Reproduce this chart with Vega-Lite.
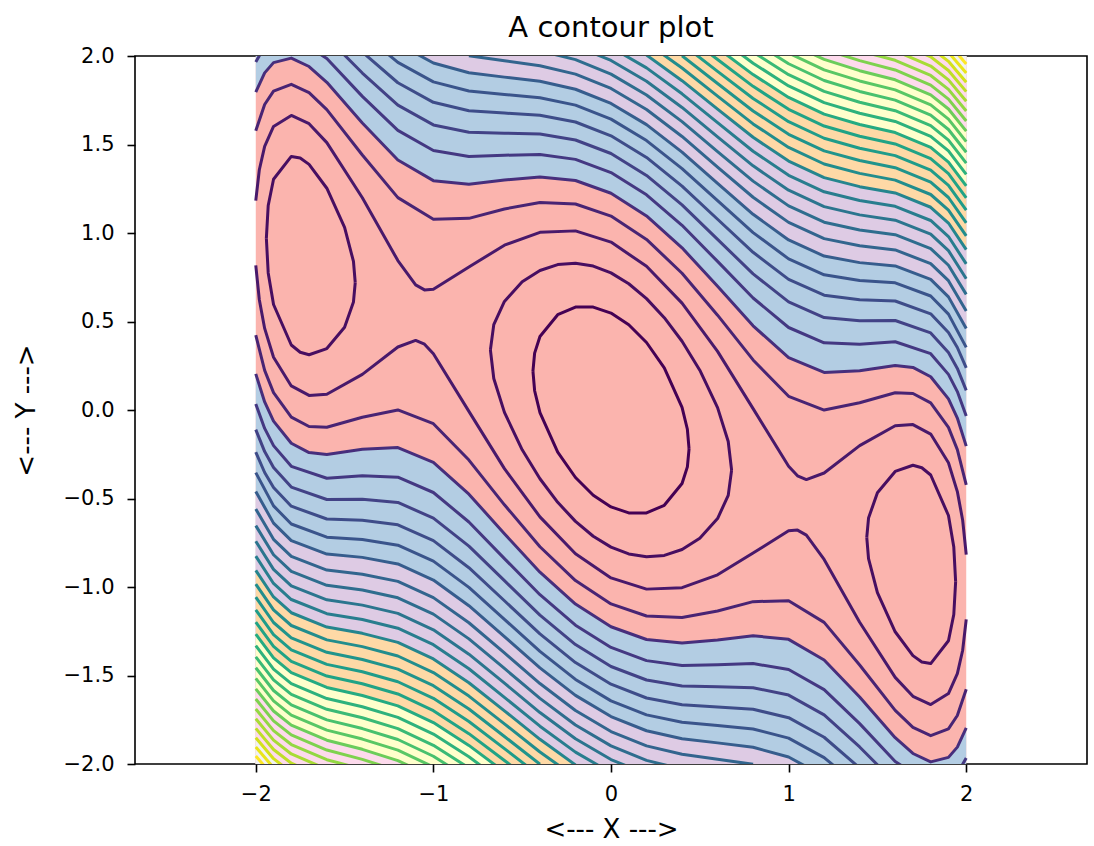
{
"$schema": "https://vega.github.io/schema/vega-lite/v6.json",
"width": 952, "height": 708,
"autosize": {"type": "none"},
"padding": {"left": 135, "top": 56, "right": 7, "bottom": 82},
"title": {"text": "A contour plot", "fontSize": 29, "fontWeight": "normal", "color": "#000", "frame": "group", "offset": 2},
"config": {
 "font": "DejaVu Sans",
 "view": {"stroke": "#000", "strokeWidth": 1.6},
 "axis": {"domain": false, "grid": false, "tickColor": "#000", "tickWidth": 1.6, "tickSize": 8, "labelFontSize": 21, "labelColor": "#000", "titleFontSize": 26, "titleFontWeight": "normal", "titleColor": "#000"},
 "axisX": {"labelPadding": 11, "titlePadding": 12},
 "axisY": {"labelPadding": 13, "titlePadding": 24}
},
"datasets": {"u": [
{"k":1,"x":-0.4395,"y":0.2198},{"k":1,"x":-0.43,"y":0.3212},{"k":1,"x":-0.4,"y":0.4149},{"k":1,"x":-0.3,"y":0.5384},{"k":1,"x":-0.2,"y":0.5813},{"k":1,"x":-0.1,"y":0.5816},{"k":1,"x":0,"y":0.5477},{"k":1,"x":0.1,"y":0.4816},{"k":1,"x":0.2,"y":0.3813},{"k":1,"x":0.3,"y":0.2384},{"k":1,"x":0.4,"y":0.0149},{"k":1,"x":0.43,"y":-0.1088},{"k":1,"x":0.4395,"y":-0.2198},
{"k":2,"g":"c","x":-0.679,"y":0.3395},{"k":2,"g":"c","x":-0.66,"y":0.4822},{"k":2,"g":"c","x":-0.6,"y":0.6135},{"k":2,"g":"c","x":-0.5,"y":0.7249},{"k":2,"g":"c","x":-0.4,"y":0.7884},{"k":2,"g":"c","x":-0.3,"y":0.8215},{"k":2,"g":"c","x":-0.2,"y":0.8292},{"k":2,"g":"c","x":-0.1,"y":0.8133},{"k":2,"g":"c","x":0,"y":0.7746},{"k":2,"g":"c","x":0.1,"y":0.7133},{"k":2,"g":"c","x":0.2,"y":0.6292},{"k":2,"g":"c","x":0.3,"y":0.5215},{"k":2,"g":"c","x":0.4,"y":0.3884},{"k":2,"g":"c","x":0.5,"y":0.2249},{"k":2,"g":"c","x":0.6,"y":0.0135},{"k":2,"g":"c","x":0.66,"y":-0.1778},{"k":2,"g":"c","x":0.679,"y":-0.3395},
{"k":2,"g":"l","x":-1.9404,"y":0.9702},{"k":2,"g":"l","x":-1.93,"y":1.1555},{"k":2,"g":"l","x":-1.9,"y":1.3039},{"k":2,"g":"l","x":-1.8,"y":1.4327},{"k":2,"g":"l","x":-1.75,"y":1.4239},{"k":2,"g":"l","x":-1.7,"y":1.3878},{"k":2,"g":"l","x":-1.6,"y":1.2529},{"k":2,"g":"l","x":-1.5,"y":1.0323},{"k":2,"g":"l","x":-1.45,"y":0.8395},{"k":2,"g":"l","x":-1.44,"y":0.72},
{"k":2,"g":"r","x":1.44,"y":-0.72},{"k":2,"g":"r","x":1.45,"y":-0.6105},{"k":2,"g":"r","x":1.5,"y":-0.4677},{"k":2,"g":"r","x":1.6,"y":-0.3471},{"k":2,"g":"r","x":1.7,"y":-0.3122},{"k":2,"g":"r","x":1.75,"y":-0.3261},{"k":2,"g":"r","x":1.8,"y":-0.3673},{"k":2,"g":"r","x":1.9,"y":-0.5961},{"k":2,"g":"r","x":1.93,"y":-0.7745},{"k":2,"g":"r","x":1.9404,"y":-0.9702},
{"k":3,"x":-2,"y":1.1826},{"k":3,"x":-1.98,"y":1.3572},{"k":3,"x":-1.95,"y":1.489},{"k":3,"x":-1.9,"y":1.6021},{"k":3,"x":-1.8,"y":1.6641},{"k":3,"x":-1.7,"y":1.6176},{"k":3,"x":-1.6,"y":1.5107},{"k":3,"x":-1.4,"y":1.1988},{"k":3,"x":-1.2,"y":0.8442},{"k":3,"x":-1.1,"y":0.7067},{"k":3,"x":-1.05,"y":0.6785},{"k":3,"x":-1,"y":0.6826},{"k":3,"x":-0.8,"y":0.8079},{"k":3,"x":-0.6,"y":0.9311},{"k":3,"x":-0.4,"y":1.0039},{"k":3,"x":-0.2,"y":1.012},{"k":3,"x":0,"y":0.9487},{"k":3,"x":0.2,"y":0.812},{"k":3,"x":0.4,"y":0.6039},{"k":3,"x":0.6,"y":0.3311},{"k":3,"x":0.8,"y":0.0079},{"k":3,"x":1,"y":-0.3174},{"k":3,"x":1.05,"y":-0.3715},{"k":3,"x":1.1,"y":-0.3933},{"k":3,"x":1.2,"y":-0.3558},{"k":3,"x":1.4,"y":-0.2012},{"k":3,"x":1.6,"y":-0.0893},{"k":3,"x":1.7,"y":-0.0824},{"k":3,"x":1.8,"y":-0.1359},{"k":3,"x":1.9,"y":-0.2979},{"k":3,"x":1.95,"y":-0.461},{"k":3,"x":1.98,"y":-0.6228},{"k":3,"x":2,"y":-0.8174},
{"k":4,"x":-2,"y":1.5774},{"k":4,"x":-1.95,"y":1.7261},{"k":4,"x":-1.9,"y":1.8016},{"k":4,"x":-1.8,"y":1.8401},{"k":4,"x":-1.7,"y":1.793},{"k":4,"x":-1.6,"y":1.6973},{"k":4,"x":-1.4,"y":1.4408},{"k":4,"x":-1.2,"y":1.1997},{"k":4,"x":-1,"y":1.0774},{"k":4,"x":-0.8,"y":1.0829},{"k":4,"x":-0.6,"y":1.1357},{"k":4,"x":-0.4,"y":1.1727},{"k":4,"x":-0.2,"y":1.1638},{"k":4,"x":0,"y":1.0954},{"k":4,"x":0.2,"y":0.9638},{"k":4,"x":0.4,"y":0.7727},{"k":4,"x":0.6,"y":0.5357},{"k":4,"x":0.8,"y":0.2829},{"k":4,"x":1,"y":0.0774},{"k":4,"x":1.2,"y":-0.0003},{"k":4,"x":1.4,"y":0.0408},{"k":4,"x":1.6,"y":0.0973},{"k":4,"x":1.7,"y":0.093},{"k":4,"x":1.8,"y":0.0401},{"k":4,"x":1.9,"y":-0.0984},{"k":4,"x":1.95,"y":-0.2239},{"k":4,"x":2,"y":-0.4226},
{"k":5,"x":-2,"y":1.7958},{"k":5,"x":-1.95,"y":1.9046},{"k":5,"x":-1.9,"y":1.9625},{"k":5,"x":-1.8,"y":1.988},{"k":5,"x":-1.7,"y":1.9406},{"k":5,"x":-1.6,"y":1.8512},{"k":5,"x":-1.4,"y":1.6213},{"k":5,"x":-1.2,"y":1.4122},{"k":5,"x":-1,"y":1.2958},{"k":5,"x":-0.8,"y":1.2754},{"k":5,"x":-0.6,"y":1.2991},{"k":5,"x":-0.4,"y":1.3163},{"k":5,"x":-0.2,"y":1.2965},{"k":5,"x":0,"y":1.2247},{"k":5,"x":0.2,"y":1.0965},{"k":5,"x":0.4,"y":0.9163},{"k":5,"x":0.6,"y":0.6991},{"k":5,"x":0.8,"y":0.4754},{"k":5,"x":1,"y":0.2958},{"k":5,"x":1.2,"y":0.2122},{"k":5,"x":1.4,"y":0.2213},{"k":5,"x":1.6,"y":0.2512},{"k":5,"x":1.7,"y":0.2406},{"k":5,"x":1.8,"y":0.188},{"k":5,"x":1.9,"y":0.0625},{"k":5,"x":1.95,"y":-0.0454},{"k":5,"x":2,"y":-0.2042},
{"k":6,"x":-2,"y":1.9661},{"k":6,"x":-1.95,"y":2.054},{"k":6,"x":-1.9,"y":2.1012},{"k":6,"x":-1.8,"y":2.1181},{"k":6,"x":-1.6,"y":1.9854},{"k":6,"x":-1.4,"y":1.7718},{"k":6,"x":-1.2,"y":1.5796},{"k":6,"x":-1,"y":1.4661},{"k":6,"x":-0.8,"y":1.4327},{"k":6,"x":-0.6,"y":1.4394},{"k":6,"x":-0.4,"y":1.4435},{"k":6,"x":-0.2,"y":1.4159},{"k":6,"x":0,"y":1.3416},{"k":6,"x":0.2,"y":1.2159},{"k":6,"x":0.4,"y":1.0435},{"k":6,"x":0.6,"y":0.8394},{"k":6,"x":0.8,"y":0.6327},{"k":6,"x":1,"y":0.4661},{"k":6,"x":1.2,"y":0.3796},{"k":6,"x":1.4,"y":0.3718},{"k":6,"x":1.6,"y":0.3854},{"k":6,"x":1.8,"y":0.3181},{"k":6,"x":1.9,"y":0.2012},{"k":6,"x":1.95,"y":0.104},{"k":6,"x":2,"y":-0.0339},
{"k":7,"x":-1.6,"y":2.1058},{"k":7,"x":-1.4,"y":1.9036},{"k":7,"x":-1.2,"y":1.7223},{"k":7,"x":-1,"y":1.6106},{"k":7,"x":-0.8,"y":1.5689},{"k":7,"x":-0.6,"y":1.5642},{"k":7,"x":-0.4,"y":1.5588},{"k":7,"x":-0.2,"y":1.5254},{"k":7,"x":0,"y":1.4491},{"k":7,"x":0.2,"y":1.3254},{"k":7,"x":0.4,"y":1.1588},{"k":7,"x":0.6,"y":0.9642},{"k":7,"x":0.8,"y":0.7689},{"k":7,"x":1,"y":0.6106},{"k":7,"x":1.2,"y":0.5223},{"k":7,"x":1.4,"y":0.5036},{"k":7,"x":1.6,"y":0.5058},{"k":7,"x":1.8,"y":0.4356},{"k":7,"x":1.9,"y":0.3248},{"k":7,"x":1.95,"y":0.235},{"k":7,"x":2,"y":0.1106},
{"k":8,"x":-1.4,"y":2.0224},{"k":8,"x":-1.2,"y":1.8489},{"k":8,"x":-1,"y":1.7383},{"k":8,"x":-0.8,"y":1.6909},{"k":8,"x":-0.6,"y":1.6778},{"k":8,"x":-0.4,"y":1.665},{"k":8,"x":-0.2,"y":1.627},{"k":8,"x":0,"y":1.5492},{"k":8,"x":0.2,"y":1.427},{"k":8,"x":0.4,"y":1.265},{"k":8,"x":0.6,"y":1.0778},{"k":8,"x":0.8,"y":0.8909},{"k":8,"x":1,"y":0.7383},{"k":8,"x":1.2,"y":0.6489},{"k":8,"x":1.4,"y":0.6224},{"k":8,"x":1.6,"y":0.616},{"k":8,"x":1.8,"y":0.5435},{"k":8,"x":1.9,"y":0.4375},{"k":8,"x":1.95,"y":0.3532},{"k":8,"x":2,"y":0.2383},
{"k":9,"x":-1.4,"y":2.1313},{"k":9,"x":-1.2,"y":1.9637},{"k":9,"x":-1,"y":1.854},{"k":9,"x":-0.8,"y":1.8023},{"k":9,"x":-0.6,"y":1.7827},{"k":9,"x":-0.4,"y":1.764},{"k":9,"x":-0.2,"y":1.7223},{"k":9,"x":0,"y":1.6432},{"k":9,"x":0.2,"y":1.5223},{"k":9,"x":0.4,"y":1.364},{"k":9,"x":0.6,"y":1.1827},{"k":9,"x":0.8,"y":1.0023},{"k":9,"x":1,"y":0.854},{"k":9,"x":1.2,"y":0.7637},{"k":9,"x":1.4,"y":0.7313},{"k":9,"x":1.6,"y":0.7183},{"k":9,"x":1.8,"y":0.6439},{"k":9,"x":1.9,"y":0.5417},{"k":9,"x":2,"y":0.354},
{"k":10,"x":-1.2,"y":2.0696},{"k":10,"x":-1,"y":1.9606},{"k":10,"x":-0.8,"y":1.9055},{"k":10,"x":-0.6,"y":1.8806},{"k":10,"x":-0.4,"y":1.8572},{"k":10,"x":-0.2,"y":1.8122},{"k":10,"x":0,"y":1.7321},{"k":10,"x":0.2,"y":1.6122},{"k":10,"x":0.4,"y":1.4572},{"k":10,"x":0.6,"y":1.2806},{"k":10,"x":0.8,"y":1.1055},{"k":10,"x":1,"y":0.9606},{"k":10,"x":1.2,"y":0.8696},{"k":10,"x":1.4,"y":0.8326},{"k":10,"x":1.6,"y":0.814},{"k":10,"x":1.8,"y":0.7382},{"k":10,"x":1.9,"y":0.6391},{"k":10,"x":2,"y":0.4606},
{"k":11,"x":-0.8,"y":2.002},{"k":11,"x":-0.6,"y":1.9728},{"k":11,"x":-0.4,"y":1.9453},{"k":11,"x":-0.2,"y":1.8977},{"k":11,"x":0,"y":1.8166},{"k":11,"x":0.2,"y":1.6977},{"k":11,"x":0.4,"y":1.5453},{"k":11,"x":0.6,"y":1.3728},{"k":11,"x":0.8,"y":1.202},{"k":11,"x":1,"y":1.0599},{"k":11,"x":1.2,"y":0.9683},{"k":11,"x":1.4,"y":0.9275},{"k":11,"x":1.6,"y":0.9044},{"k":11,"x":1.8,"y":0.8274},{"k":11,"x":1.9,"y":0.7308},{"k":11,"x":2,"y":0.5599},
{"k":12,"x":-0.4,"y":2.0293},{"k":12,"x":-0.2,"y":1.9793},{"k":12,"x":0,"y":1.8974},{"k":12,"x":0.2,"y":1.7793},{"k":12,"x":0.4,"y":1.6293},{"k":12,"x":0.6,"y":1.4602},{"k":12,"x":0.8,"y":1.293},{"k":12,"x":1,"y":1.1533},{"k":12,"x":1.2,"y":1.0612},{"k":12,"x":1.4,"y":1.0172},{"k":12,"x":1.6,"y":0.9903},{"k":12,"x":1.8,"y":0.9121},{"k":12,"x":1.9,"y":0.8178},{"k":12,"x":2,"y":0.6533},
{"k":13,"x":-0.2,"y":2.0575},{"k":13,"x":0,"y":1.9748},{"k":13,"x":0.2,"y":1.8575},{"k":13,"x":0.4,"y":1.7095},{"k":13,"x":0.6,"y":1.5434},{"k":13,"x":0.8,"y":1.3794},{"k":13,"x":1,"y":1.2416},{"k":13,"x":1.2,"y":1.1492},{"k":13,"x":1.4,"y":1.1024},{"k":13,"x":1.6,"y":1.0722},{"k":13,"x":1.8,"y":0.9931},{"k":13,"x":1.9,"y":0.9007},{"k":13,"x":2,"y":0.7416},
{"k":14,"x":0,"y":2.0494},{"k":14,"x":0.2,"y":1.9327},{"k":14,"x":0.4,"y":1.7865},{"k":14,"x":0.6,"y":1.6231},{"k":14,"x":0.8,"y":1.4618},{"k":14,"x":1,"y":1.3257},{"k":14,"x":1.2,"y":1.2329},{"k":14,"x":1.4,"y":1.1838},{"k":14,"x":1.6,"y":1.1507},{"k":14,"x":1.8,"y":1.0707},{"k":14,"x":1.9,"y":0.9801},{"k":14,"x":2,"y":0.8257},
{"k":15,"x":0.2,"y":2.0052},{"k":15,"x":0.4,"y":1.8606},{"k":15,"x":0.6,"y":1.6996},{"k":15,"x":0.8,"y":1.5407},{"k":15,"x":1,"y":1.4061},{"k":15,"x":1.2,"y":1.313},{"k":15,"x":1.4,"y":1.2618},{"k":15,"x":1.6,"y":1.2261},{"k":15,"x":1.8,"y":1.1454},{"k":15,"x":1.9,"y":1.0563},{"k":15,"x":2,"y":0.9061},
{"k":16,"x":0.2,"y":2.0752},{"k":16,"x":0.4,"y":1.9322},{"k":16,"x":0.6,"y":1.7732},{"k":16,"x":0.8,"y":1.6165},{"k":16,"x":1,"y":1.4833},{"k":16,"x":1.2,"y":1.3899},{"k":16,"x":1.4,"y":1.3369},{"k":16,"x":1.6,"y":1.2988},{"k":16,"x":1.8,"y":1.2175},{"k":16,"x":1.9,"y":1.1297},{"k":16,"x":2,"y":0.9833},
{"k":17,"x":0.4,"y":2.0014},{"k":17,"x":0.6,"y":1.8444},{"k":17,"x":0.8,"y":1.6896},{"k":17,"x":1,"y":1.5575},{"k":17,"x":1.2,"y":1.4639},{"k":17,"x":1.4,"y":1.4092},{"k":17,"x":1.6,"y":1.3691},{"k":17,"x":1.8,"y":1.2872},{"k":17,"x":1.9,"y":1.2006},{"k":17,"x":2,"y":1.0575},
{"k":18,"x":0.4,"y":2.0685},{"k":18,"x":0.6,"y":1.9132},{"k":18,"x":0.8,"y":1.7602},{"k":18,"x":1,"y":1.6292},{"k":18,"x":1.2,"y":1.5353},{"k":18,"x":1.4,"y":1.4792},{"k":18,"x":1.6,"y":1.4372},{"k":18,"x":1.8,"y":1.3547},{"k":18,"x":1.9,"y":1.2693},{"k":18,"x":2,"y":1.1292},
{"k":19,"x":0.4,"y":2.1337},{"k":19,"x":0.6,"y":1.98},{"k":19,"x":0.8,"y":1.8286},{"k":19,"x":1,"y":1.6985},{"k":19,"x":1.2,"y":1.6044},{"k":19,"x":1.4,"y":1.5469},{"k":19,"x":1.6,"y":1.5033},{"k":19,"x":1.8,"y":1.4203},{"k":19,"x":1.9,"y":1.3359},{"k":19,"x":2,"y":1.1985},
{"k":20,"x":0.6,"y":2.0449},{"k":20,"x":0.8,"y":1.8949},{"k":20,"x":1,"y":1.7657},{"k":20,"x":1.2,"y":1.6715},{"k":20,"x":1.4,"y":1.6127},{"k":20,"x":1.6,"y":1.5675},{"k":20,"x":1.8,"y":1.4841},{"k":20,"x":1.9,"y":1.4006},{"k":20,"x":2,"y":1.2657},
{"k":21,"x":0.6,"y":2.108},{"k":21,"x":0.8,"y":1.9593},{"k":21,"x":1,"y":1.831},{"k":21,"x":1.2,"y":1.7366},{"k":21,"x":1.4,"y":1.6767},{"k":21,"x":1.6,"y":1.63},{"k":21,"x":1.8,"y":1.5462},{"k":21,"x":1.9,"y":1.4636},{"k":21,"x":2,"y":1.331},
{"k":22,"x":0.8,"y":2.0221},{"k":22,"x":1,"y":1.8944},{"k":22,"x":1.2,"y":1.7999},{"k":22,"x":1.4,"y":1.739},{"k":22,"x":1.6,"y":1.691},{"k":22,"x":1.8,"y":1.6067},{"k":22,"x":1.9,"y":1.5249},{"k":22,"x":2,"y":1.3944},
{"k":23,"x":0.8,"y":2.0832},{"k":23,"x":1,"y":1.9563},{"k":23,"x":1.2,"y":1.8616},{"k":23,"x":1.4,"y":1.7998},{"k":23,"x":1.6,"y":1.7505},{"k":23,"x":1.8,"y":1.6659},{"k":23,"x":1.9,"y":1.5848},{"k":23,"x":2,"y":1.4563},
{"k":24,"x":1,"y":2.0166},{"k":24,"x":1.2,"y":1.9218},{"k":24,"x":1.4,"y":1.8591},{"k":24,"x":1.6,"y":1.8087},{"k":24,"x":1.8,"y":1.7237},{"k":24,"x":1.9,"y":1.6433},{"k":24,"x":2,"y":1.5166},
{"k":25,"x":1,"y":2.0755},{"k":25,"x":1.2,"y":1.9806},{"k":25,"x":1.4,"y":1.917},{"k":25,"x":1.6,"y":1.8655},{"k":25,"x":1.8,"y":1.7803},{"k":25,"x":1.9,"y":1.7005},{"k":25,"x":2,"y":1.5755},
{"k":26,"x":1.2,"y":2.0381},{"k":26,"x":1.4,"y":1.9737},{"k":26,"x":1.6,"y":1.9212},{"k":26,"x":1.8,"y":1.8357},{"k":26,"x":1.9,"y":1.7565},{"k":26,"x":2,"y":1.6331},
{"k":27,"x":1.4,"y":2.0292},{"k":27,"x":1.6,"y":1.9758},{"k":27,"x":1.8,"y":1.8899},{"k":27,"x":1.9,"y":1.8114},{"k":27,"x":2,"y":1.6895},
{"k":28,"x":1.6,"y":2.0293},{"k":28,"x":1.8,"y":1.9432},{"k":28,"x":1.9,"y":1.8652},{"k":28,"x":2,"y":1.7447},
{"k":29,"x":1.6,"y":2.0819},{"k":29,"x":1.8,"y":1.9955},{"k":29,"x":1.9,"y":1.918},{"k":29,"x":2,"y":1.7988},
{"k":30,"x":1.8,"y":2.0468},{"k":30,"x":1.9,"y":1.9698},{"k":30,"x":2,"y":1.8519},
{"k":31,"x":1.9,"y":2.0207},{"k":31,"x":2,"y":1.904},
{"k":32,"x":1.9,"y":2.0708},{"k":32,"x":2,"y":1.9552}
]},
"layer": [
 {
  "data": {"values": [{}]},
  "mark": {"type": "rect", "color": "#fbb4ae"},
  "encoding": {
   "x": {"datum": -2, "type": "quantitative", "scale": {"domain": [-2.68, 2.68], "nice": false, "zero": false}, "axis": {"values": [-2, -1, 0, 1, 2], "format": "d", "title": "<--- X --->"}},
   "x2": {"datum": 2},
   "y": {"datum": -2, "type": "quantitative", "scale": {"domain": [-2, 2], "nice": false, "zero": false}, "axis": {"values": [-2, -1.5, -1, -0.5, 0, 0.5, 1, 1.5, 2], "format": ".1f", "title": "<--- Y --->"}},
   "y2": {"datum": 2}
  }
 },
 {
  "data": {"name": "u"},
  "encoding": {
   "x": {"field": "x", "type": "quantitative", "scale": {"domain": [-2.68, 2.68], "nice": false, "zero": false}, "axis": null},
   "y": {"field": "y", "type": "quantitative", "stack": null, "scale": {"domain": [-2, 2], "nice": false, "zero": false}, "axis": null},
   "y2": {"datum": 2}
  },
  "layer": [
   {"transform": [{"filter": "datum.k == 5"}], "mark": {"type": "area", "clip": true, "color": "#b3cde3"}},
   {"transform": [{"filter": "datum.k == 10"}], "mark": {"type": "area", "clip": true, "color": "#decbe4"}},
   {"transform": [{"filter": "datum.k == 15"}], "mark": {"type": "area", "clip": true, "color": "#fed9a6"}},
   {"transform": [{"filter": "datum.k == 20"}], "mark": {"type": "area", "clip": true, "color": "#ffffcc"}},
   {"transform": [{"filter": "datum.k == 25"}], "mark": {"type": "area", "clip": true, "color": "#fddaec"}},
   {"transform": [{"filter": "datum.k == 30"}], "mark": {"type": "area", "clip": true, "color": "#f2f2f2"}}
  ]
 },
 {
  "data": {"name": "u"},
  "encoding": {
   "x": {"field": "x", "type": "quantitative", "scale": {"domain": [-2.68, 2.68], "nice": false, "zero": false, "reverse": true}, "axis": null},
   "y": {"field": "y", "type": "quantitative", "stack": null, "scale": {"domain": [-2, 2], "nice": false, "zero": false, "reverse": true}, "axis": null},
   "y2": {"datum": 2}
  },
  "layer": [
   {"transform": [{"filter": "datum.k == 5"}], "mark": {"type": "area", "clip": true, "color": "#b3cde3"}},
   {"transform": [{"filter": "datum.k == 10"}], "mark": {"type": "area", "clip": true, "color": "#decbe4"}},
   {"transform": [{"filter": "datum.k == 15"}], "mark": {"type": "area", "clip": true, "color": "#fed9a6"}},
   {"transform": [{"filter": "datum.k == 20"}], "mark": {"type": "area", "clip": true, "color": "#ffffcc"}},
   {"transform": [{"filter": "datum.k == 25"}], "mark": {"type": "area", "clip": true, "color": "#fddaec"}},
   {"transform": [{"filter": "datum.k == 30"}], "mark": {"type": "area", "clip": true, "color": "#f2f2f2"}}
  ]
 },
 {
  "data": {"name": "u"},
  "mark": {"type": "line", "clip": true, "strokeWidth": 3, "strokeJoin": "round"},
  "encoding": {
   "x": {"field": "x", "type": "quantitative", "scale": {"domain": [-2.68, 2.68], "nice": false, "zero": false}, "axis": null},
   "y": {"field": "y", "type": "quantitative", "scale": {"domain": [-2, 2], "nice": false, "zero": false}, "axis": null},
   "color": {"field": "k", "type": "quantitative", "scale": {"scheme": "viridis", "domain": [1, 32]}, "legend": null},
   "detail": {"field": "g", "type": "nominal"},
   "order": {"field": "x", "type": "quantitative"}
  }
 },
 {
  "data": {"name": "u"},
  "mark": {"type": "line", "clip": true, "strokeWidth": 3, "strokeJoin": "round"},
  "encoding": {
   "x": {"field": "x", "type": "quantitative", "scale": {"domain": [-2.68, 2.68], "nice": false, "zero": false, "reverse": true}, "axis": null},
   "y": {"field": "y", "type": "quantitative", "scale": {"domain": [-2, 2], "nice": false, "zero": false, "reverse": true}, "axis": null},
   "color": {"field": "k", "type": "quantitative", "scale": {"scheme": "viridis", "domain": [1, 32]}, "legend": null},
   "detail": {"field": "g", "type": "nominal"},
   "order": {"field": "x", "type": "quantitative"}
  }
 }
],
"resolve": {"scale": {"x": "independent", "y": "independent", "color": "shared"}}
}
